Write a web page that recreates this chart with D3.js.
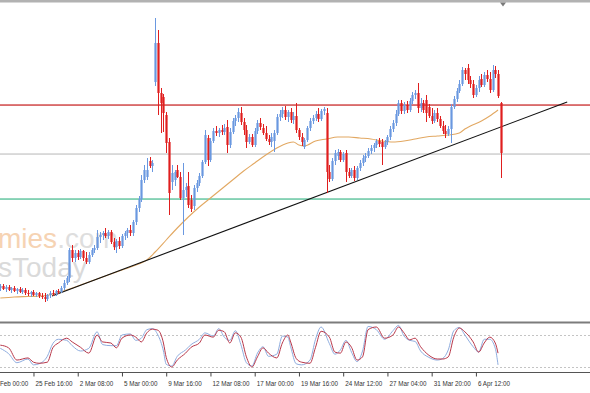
<!DOCTYPE html>
<html>
<head>
<meta charset="utf-8">
<script src="https://cdn.jsdelivr.net/npm/d3@7"></script>
<style>
html, body { margin: 0; padding: 0; background: #fff; }
svg { display: block; }
</style>
</head>
<body>
<div id="chart"></div>
<script>
// bars: [open, high, low, close]
const candles = [
  [32,36,29,34],[34,36,30,31],[31,35,28,33],[33,35,29,30],[30,33,27,32],
  [32,34,28,29],[29,32,26,31],[31,33,27,28],[28,32,26,30],[30,32,25,27],
  [27,30,24,26],[26,29,23,28],[28,30,24,25],[25,28,23,27],[27,28,22,24],
  [24,27,21,23],[23,27,18,21],[21,26,19,25],[25,29,22,27],[27,30,24,26],
  [26,30,24,29],[29,31,26,28],[28,34,27,32],[32,40,30,37],[37,44,35,42],
  [42,72,38,70],[70,75,58,62],[62,70,58,67],[67,70,60,63],[63,71,61,69],
  [69,70,59,62],[62,68,56,58],[58,68,56,65],[65,72,63,70],[70,75,67,72],
  [72,90,70,83],[83,88,77,85],[85,89,80,87],[87,92,82,84],[84,90,81,88],
  [88,90,76,78],[78,82,70,73],[73,81,67,79],[79,83,71,74],[74,86,72,84],
  [84,89,80,87],[87,92,82,90],[90,95,84,87],[87,100,84,98],[98,115,95,112],
  [112,124,108,121],[121,145,118,140],[140,155,137,150],[143,162,140,150],[159,163,152,154],
  [154,160,148,157],[238,302,234,277],[277,290,205,227],[227,232,187,217],[223,226,188,207],
  [205,208,167,177],[178,182,105,127],[138,155,130,147],[140,150,134,148],[150,155,142,143],
  [143,148,120,122],[122,157,85,130],[130,137,123,133],[134,148,112,115],[120,125,108,111],
  [114,135,110,132],[132,140,128,137],[137,147,134,144],[144,160,142,158],[158,190,156,185],
  [182,185,154,160],[160,182,158,179],[179,192,177,189],[189,194,184,187],[187,192,183,190],
  [190,195,185,188],[188,196,185,192],[193,200,167,175],[175,192,172,188],[188,202,186,199],
  [199,205,194,202],[202,212,198,208],[207,213,195,198],[198,202,185,190],[190,195,172,178],
  [178,186,176,183],[183,186,173,175],[175,192,173,189],[189,200,186,197],[197,202,190,193],
  [192,196,185,187],[187,194,179,181],[181,185,175,178],[178,187,173,183],[179,190,168,187],
  [187,206,185,203],[203,210,199,206],[206,213,202,210],[210,214,200,203],[203,210,198,208],
  [208,212,197,200],[200,208,196,204],[204,217,187,190],[190,192,180,183],[183,187,174,178],
  [173,182,171,180],[180,194,178,192],[192,202,189,199],[199,205,196,202],[202,209,199,206],
  [206,212,198,201],[201,211,199,209],[209,213,205,211],[207,212,127,148],[148,155,138,141],
  [141,162,139,159],[159,170,155,167],[164,171,160,168],[168,170,158,160],[160,168,158,166],
  [167,170,138,148],[148,152,142,144],[144,152,142,150],[150,154,139,142],[142,154,140,152],
  [152,160,149,157],[157,165,154,162],[162,167,158,164],[164,172,162,169],[169,175,166,172],
  [172,177,168,175],[175,181,172,179],[179,182,173,176],[178,181,155,173],[173,180,171,178],
  [178,185,175,183],[183,194,180,191],[191,200,188,197],[197,210,194,206],[206,220,204,217],
  [217,220,206,209],[209,218,206,215],[215,219,207,210],[210,222,208,219],[219,228,216,225],
  [225,230,221,227],[227,237,207,212],[212,222,208,217],[217,220,207,210],[220,225,198,207],
  [213,216,202,204],[204,212,196,199],[199,210,197,207],[207,212,198,201],[201,204,192,194],
  [194,199,186,189],[189,195,182,186],[186,194,184,191],[191,216,177,213],[213,224,211,221],
  [221,232,218,229],[229,240,227,236],[236,253,234,250],[250,252,240,246],[252,256,236,240],
  [240,244,232,236],[236,240,222,225],[225,235,223,232],[232,244,228,240],[241,246,233,235],
  [235,248,233,245],[245,250,238,241],[241,248,227,230],[230,255,228,250],[250,254,242,246],
  [246,250,222,224],[217,218,142,167]
];

// moving average readings: bar index / value
const maIdx = [0,5,10,15,20,25,30,35,40,45,50,53,56,60,64,68,72,76,80,84,88,92,96,100,104,106,108,110,114,118,122,126,130,134,138,142,146,150,154,158,162,166,168,170,174,177,180];
const maVals = [22,23,23.5,24,26.5,31,36,41,46,51,56,60,68,80,92,103,113,122,131,140,149,157,165,172,177,178,175,174,179,181,183,183,182,181,179,178,179,181,183,184,185,187,191,194,199,204,210];

// horizontal levels and trend line
const levels = [215, 166, 121];
const trendIdx = [18.7, 205];
const trendVals = [24, 218];

// stochastic readings
const stochIdx = [0,3,6,10,12,14,17,19,21,24,26,29,32,35,37,40,42,44,47,49,51,53,55,57,59,60,62,64,67,69,72,74,77,79,81,83,85,87,89,91,93,95,97,100,102,104,105,107,109,112,114,116,119,121,123,125,127,129,131,133,136,139,142,144,146,148,150,152,155,158,160,162,164,166,168,171,173,175,177,179,180];
const stochSignal = [61,56,33,37,29,27,29,56,65,74,67,57,46,80,67,65,56,74,80,76,67,84,91,89,65,38,20,33,46,57,65,80,76,89,86,65,84,76,39,20,39,56,46,37,65,80,67,36,29,27,57,87,76,48,46,67,57,33,39,90,95,74,80,95,84,71,74,58,42,35,35,39,76,93,86,67,48,65,76,65,46];
const stochMain = [55,45,28,35,24,26,40,64,72,70,60,50,55,86,62,60,60,80,82,70,74,90,92,80,50,25,22,40,52,62,72,84,78,92,76,70,88,62,28,22,46,58,40,44,78,76,58,26,24,33,72,95,64,44,52,70,48,30,50,96,90,72,88,98,78,70,68,50,38,33,36,52,88,94,80,58,48,72,72,55,24];
const stochLevels = [80, 20];

// time axis
const tickIdx = [-4,12,28,44,60,76,92,108,124,140,156,172];
const tickLabels = ['23 Feb 00:00','25 Feb 16:00','2 Mar 08:00','5 Mar 00:00','9 Mar 16:00','12 Mar 08:00',
  '17 Mar 00:00','19 Mar 16:00','24 Mar 12:00','27 Mar 04:00','31 Mar 20:00','6 Apr 12:00'];

const width = 590, height = 393;
const svg = d3.select('#chart').append('svg')
    .attr('width', width)
    .attr('height', height);

const x = d3.scaleLinear().domain([0, 181]).range([0.3, 500.8]);
const y = d3.scaleLinear().domain([0, 320]).range([320, 0]);
const ys = d3.scaleLinear().domain([20, 80]).range([367, 335]);

const defs = svg.append('defs');
defs.append('clipPath').attr('id', 'clipMain')
    .append('rect').attr('x', 0).attr('y', 3).attr('width', width).attr('height', 318);
defs.append('clipPath').attr('id', 'clipSub')
    .append('rect').attr('x', 0).attr('y', 323.5).attr('width', width).attr('height', 48);

// frame
svg.append('rect').attr('x', 0).attr('y', 0).attr('width', width).attr('height', 2.5).attr('fill', '#b2b2b2');
svg.append('path').attr('d', 'M500,2.5L506,2.5L503,6.5Z').attr('fill', '#7a7a7a');

const main = svg.append('g').attr('clip-path', 'url(#clipMain)');

// watermark
const wm = main.append('text')
    .attr('x', -2).attr('y', 248)
    .style('font', '28px "Liberation Sans", Arial, sans-serif');
wm.append('tspan').attr('fill', '#f6d3b3').text('mies');
wm.append('tspan').attr('fill', '#dedede').text('.com');
main.append('text')
    .attr('x', -2).attr('y', 277)
    .style('font', '28px "Liberation Sans", Arial, sans-serif')
    .attr('fill', '#dadada')
    .text('sToday');

// horizontal levels
const levelColors = ['#d04848', '#cfcfcf', '#66c6a2'];
main.selectAll('.level')
    .data(levels)
    .enter().append('rect')
    .attr('class', 'level')
    .attr('x', 0).attr('width', width)
    .attr('y', d => y(d) - 0.7)
    .attr('height', 1.5)
    .style('fill', (d, i) => levelColors[i]);

// moving average
const maLine = d3.line()
    .x(d => x(d[0]))
    .y(d => y(d[1]))
    .curve(d3.curveMonotoneX);
main.append('path')
    .datum(maIdx.map((d, i) => [d, maVals[i]]))
    .attr('d', maLine)
    .style('fill', 'none')
    .style('stroke', '#e2a862')
    .style('stroke-width', 1.1);

// trend line
main.append('line')
    .attr('x1', x(trendIdx[0])).attr('y1', y(trendVals[0]))
    .attr('x2', x(trendIdx[1])).attr('y2', y(trendVals[1]))
    .style('stroke', '#111')
    .style('stroke-width', 1.1);

// candles
const up = '#6a98e0', down = '#e01e1e';
const bars = main.selectAll('.bar')
    .data(candles)
    .enter().append('g')
    .attr('class', 'bar');

bars.append('line')
    .attr('x1', (d, i) => Math.round(x(i)) + 0.5)
    .attr('x2', (d, i) => Math.round(x(i)) + 0.5)
    .attr('y1', d => y(d[1]))
    .attr('y2', d => y(d[2]))
    .style('stroke', d => d[3] >= d[0] ? up : down)
    .style('stroke-width', 1);

bars.append('rect')
    .attr('x', (d, i) => Math.round(x(i)) - 0.6)
    .attr('width', 2.2)
    .attr('y', d => y(Math.max(d[0], d[3])))
    .attr('height', d => Math.max(1, Math.abs(y(d[0]) - y(d[3]))))
    .style('fill', d => d[3] >= d[0] ? up : down);

// separator between windows
svg.append('rect').attr('x', 0).attr('y', 321.5).attr('width', width).attr('height', 2).attr('fill', '#7c7c7c');

// stochastic window
const sub = svg.append('g').attr('clip-path', 'url(#clipSub)');
sub.selectAll('.slevel')
    .data(stochLevels)
    .enter().append('line')
    .attr('class', 'slevel')
    .attr('x1', 0).attr('x2', width)
    .attr('y1', d => Math.round(ys(d)) + 0.5)
    .attr('y2', d => Math.round(ys(d)) + 0.5)
    .style('stroke', '#c4c4c4')
    .style('stroke-dasharray', '2,2');

const sLine = d3.line()
    .x(d => x(d[0]))
    .y(d => ys(d[1]))
    .curve(d3.curveMonotoneX);
sub.append('path')
    .datum(stochIdx.map((d, i) => [d, stochMain[i]]))
    .attr('d', sLine)
    .style('fill', 'none')
    .style('stroke', '#8eacde')
    .style('stroke-width', 1);
sub.append('path')
    .datum(stochIdx.map((d, i) => [d, stochSignal[i]]))
    .attr('d', sLine)
    .style('fill', 'none')
    .style('stroke', '#b8384a')
    .style('stroke-width', 1);

// time axis
svg.append('line')
    .attr('x1', 0).attr('x2', width)
    .attr('y1', 372.5).attr('y2', 372.5)
    .style('stroke', '#555');

const axis = d3.axisBottom(x)
    .tickValues(tickIdx)
    .tickFormat((d, i) => tickLabels[i])
    .tickSizeInner(4)
    .tickSizeOuter(0);
const gx = svg.append('g')
    .attr('transform', 'translate(0,372.5)')
    .call(axis);
gx.select('.domain').remove();
gx.selectAll('.tick line').attr('stroke', '#444');
gx.selectAll('.tick text')
    .attr('text-anchor', 'start')
    .attr('x', 1.5)
    .attr('y', 13.5)
    .attr('dy', 0)
    .attr('fill', '#333')
    .style('font', '6.3px "Liberation Sans", Arial, sans-serif');
</script>
</body>
</html>
